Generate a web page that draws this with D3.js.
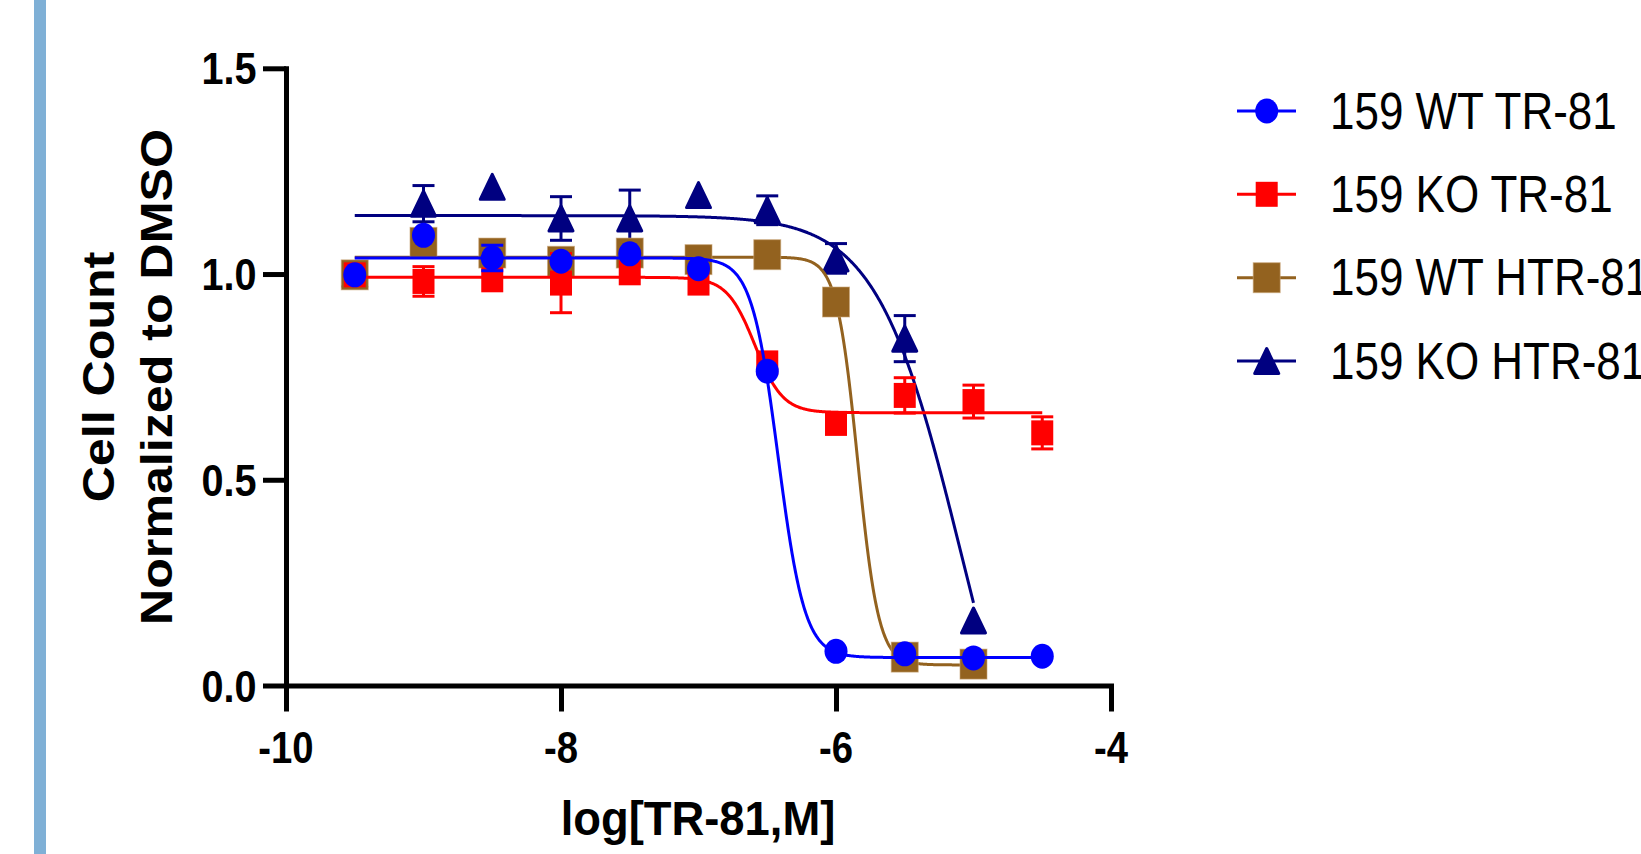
<!DOCTYPE html>
<html><head><meta charset="utf-8">
<script src="https://cdn.jsdelivr.net/npm/d3@7"></script>
<style>body{margin:0;background:#fff;overflow:hidden} svg{display:block}</style>
</head><body>
<script>
// ---------- data ----------
const logConc = [-9.5, -9, -8.5, -8, -7.5, -7, -6.5, -6, -5.5, -5, -4.5];
const seriesNames = ["159 WT TR-81", "159 KO TR-81", "159 WT HTR-81", "159 KO HTR-81"];
const wtTR81     = [0.998, 1.094, 1.039, 1.031, 1.049, 1.013, 0.764, 0.083, 0.077, 0.067, 0.071];
const wtTR81Err  = [0, 0, 0.031, 0, 0, 0, 0, 0, 0, 0, 0];
const koTR81     = [0.998, 0.982, 0.986, 0.978, 1.003, 0.978, 0.784, 0.637, 0.705, 0.690, 0.614];
const koTR81Err  = [0, 0.036, 0, 0.072, 0, 0, 0, 0, 0.043, 0.040, 0.039];
const wtHTR81    = [0.998, 1.077, 1.051, 1.031, 1.051, 1.035, 1.047, 0.932, 0.069, 0.052, null];
const wtHTR81Err = [0, 0, 0, 0, 0, 0, 0, 0, 0, 0, null];
const koHTR81    = [1.000, 1.171, 1.212, 1.135, 1.135, 1.192, 1.155, 1.038, 0.843, 0.158, null];
const koHTR81Err = [0, 0.044, 0, 0.053, 0.069, 0, 0.035, 0.036, 0.056, 0, null];
// four-parameter logistic fits (top, bottom, logEC50, Hill slope, fitted x range)
const fitTop     = [1.039, 0.992, 1.041, 1.142];
const fitBottom  = [0.068, 0.663, 0.050, -0.50];
const fitLogEC50 = [-6.42, -6.59, -5.842, -5.09];
const fitHill    = [4.5, 4.3, 5.7, 1.42];
const fitFrom    = [-9.5, -9.5, -9.5, -9.5];
const fitTo      = [-4.5, -4.5, -5.0, -5.0];
const xTicks = [-10, -8, -6, -4];
const xTickLabels = ["-10", "-8", "-6", "-4"];
const yTicks = [0, 0.5, 1.0, 1.5];
const yTickLabels = ["0.0", "0.5", "1.0", "1.5"];
const xTitle = "log[TR-81,M]";
const yTitle1 = "Cell Count";
const yTitle2 = "Normalized to DMSO";

// ---------- styling ----------
const W = 1641, H = 854;
const colors = ["#0000FF", "#FF0000", "#93621F", "#000080"];
const shapes = ["circle", "square", "bigsquare", "triangle"];
const FONT = "'Liberation Sans', Arial, Helvetica, sans-serif";

const svg = d3.select("body").append("svg").attr("width", W).attr("height", H);
svg.append("rect").attr("width", W).attr("height", H).attr("fill", "#fff");
svg.append("rect").attr("x", 34).attr("y", 0).attr("width", 12).attr("height", H).attr("fill", "#7FB0D6");

const x = d3.scaleLinear().domain([-10, -4]).range([286, 1111]);
const y = d3.scaleLinear().domain([0, 1.5]).range([685.5, 68.3]);

function txt(g, str, px, py, o) {
  return g.append("text")
    .attr("transform", `translate(${px},${py}) rotate(${o.rot || 0}) scale(${o.sx || 1},1)`)
    .attr("text-anchor", o.anchor || "start")
    .style("font-family", FONT)
    .style("font-size", o.fs + "px")
    .style("font-weight", o.bold ? "bold" : "normal")
    .attr("fill", "#000")
    .text(str);
}

// ---------- axes ----------
const yAxis = svg.append("g").attr("transform", `translate(${x(-10)},0)`)
  .call(d3.axisLeft(y).tickValues(yTicks).tickSize(23).tickSizeOuter(0).tickFormat(""));
const xAxis = svg.append("g").attr("transform", `translate(0,${y(0)})`)
  .call(d3.axisBottom(x).tickValues(xTicks).tickSize(26).tickSizeOuter(0).tickFormat(""));
[yAxis, xAxis].forEach(a => {
  a.select(".domain").attr("stroke", "#000").attr("stroke-width", 5).attr("stroke-linecap", "square");
  a.selectAll(".tick line").attr("stroke", "#000").attr("stroke-width", 5);
});

yTicks.forEach((v, i) => txt(svg, yTickLabels[i], 256.5, y(v) + 16, {fs: 44, bold: true, anchor: "end", sx: 0.9}));
xTicks.forEach((v, i) => txt(svg, xTickLabels[i], x(v), 763, {fs: 45, bold: true, anchor: "middle", sx: 0.85}));
txt(svg, xTitle, 698, 835, {fs: 48, bold: true, anchor: "middle", sx: 0.945});
txt(svg, yTitle1, 114, 377, {fs: 44, bold: true, anchor: "middle", rot: -90, sx: 1.14});
txt(svg, yTitle2, 172, 377, {fs: 44, bold: true, anchor: "middle", rot: -90, sx: 1.14});

// ---------- markers ----------
function marker(g, shape, color, cx, cy) {
  if (shape === "circle") {
    g.append("ellipse").attr("cx", cx).attr("cy", cy).attr("rx", 11.5).attr("ry", 12.5).attr("fill", color);
  } else if (shape === "square") {
    g.append("rect").attr("x", cx - 11).attr("y", cy - 12.5).attr("width", 22).attr("height", 25).attr("fill", color);
  } else if (shape === "bigsquare") {
    g.append("rect").attr("x", cx - 13.5).attr("y", cy - 15).attr("width", 27).attr("height", 30).attr("fill", color)
      .attr("stroke", "#C9A577").attr("stroke-width", 1).attr("stroke-opacity", 0.6);
  } else {
    g.append("path")
      .attr("d", `M${cx},${cy - 12.5} L${cx + 12},${cy + 12.5} L${cx - 12},${cy + 12.5} Z`)
      .attr("fill", color).attr("stroke", color).attr("stroke-width", 3).attr("stroke-linejoin", "round");
  }
}

const values = [wtTR81, koTR81, wtHTR81, koHTR81];
const errors = [wtTR81Err, koTR81Err, wtHTR81Err, koHTR81Err];
const drawOrder = [3, 2, 1, 0];

drawOrder.forEach(s => {
  const g = svg.append("g");
  const col = colors[s];
  // fitted curve
  const xs = d3.range(fitFrom[s], fitTo[s] + 1e-9, 0.005);
  const f = v => fitBottom[s] + (fitTop[s] - fitBottom[s]) / (1 + Math.pow(10, (v - fitLogEC50[s]) * fitHill[s]));
  g.append("path").datum(xs)
    .attr("d", d3.line().x(d => x(d)).y(d => y(f(d))))
    .attr("fill", "none").attr("stroke", col).attr("stroke-width", 3);
  // error bars
  logConc.forEach((c, i) => {
    const v = values[s][i], e = errors[s][i];
    if (v == null || !e) return;
    const cx = x(c);
    g.append("line").attr("x1", cx).attr("x2", cx).attr("y1", y(v - e)).attr("y2", y(v + e))
      .attr("stroke", col).attr("stroke-width", 3);
    [v - e, v + e].forEach(b => g.append("line").attr("x1", cx - 11).attr("x2", cx + 11)
      .attr("y1", y(b)).attr("y2", y(b)).attr("stroke", col).attr("stroke-width", 3));
  });
  // points
  logConc.forEach((c, i) => {
    const v = values[s][i];
    if (v == null) return;
    marker(g, shapes[s], col, x(c), y(v));
  });
});

// ---------- legend ----------
const legendY = [111, 194.3, 277.7, 361];
seriesNames.forEach((name, s) => {
  const g = svg.append("g");
  g.append("line").attr("x1", 1237).attr("x2", 1296).attr("y1", legendY[s]).attr("y2", legendY[s])
    .attr("stroke", colors[s]).attr("stroke-width", 3);
  marker(g, shapes[s], colors[s], 1266.7, legendY[s]);
  txt(g, name, 1330, legendY[s] + 17.5, {fs: 51, sx: 0.862});
});
</script>
</body></html>
